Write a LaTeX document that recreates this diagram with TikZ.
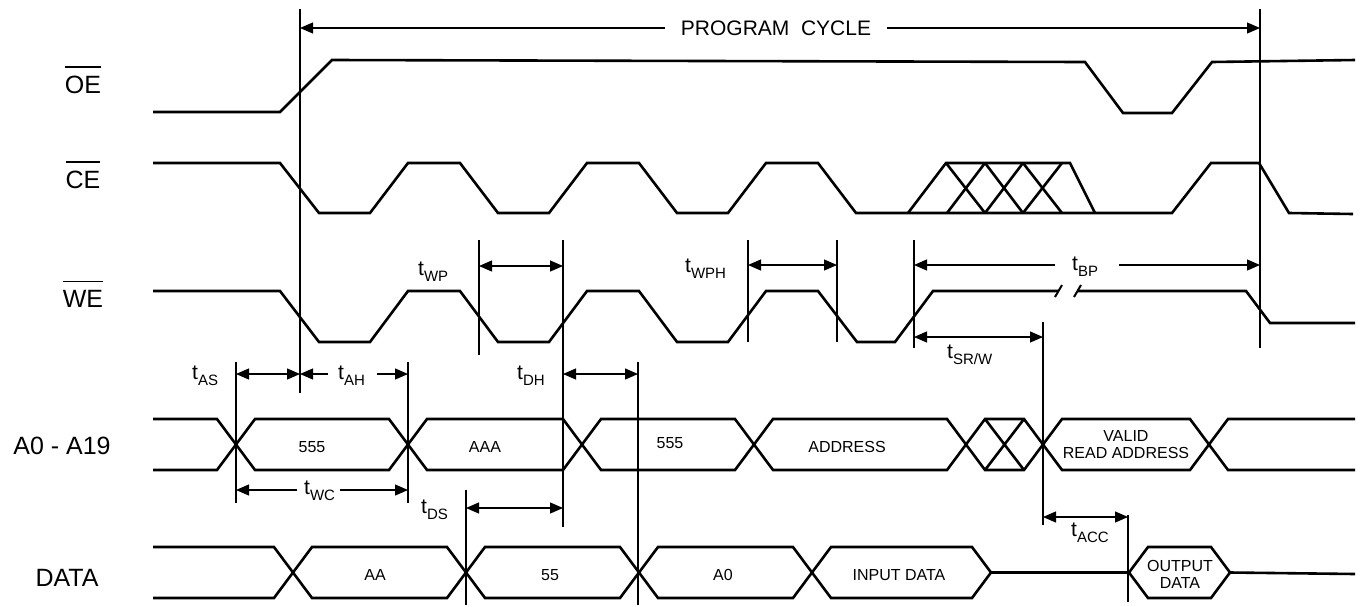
\documentclass[tikz,border=0pt]{standalone}
\usepackage{fontspec}
\setmainfont{Liberation Sans}
\usetikzlibrary{arrows.meta}
\newcommand\tlab[1]{{\fontsize{21}{21}\selectfont t}\raisebox{-6pt}{\fontsize{15}{15}\selectfont #1}}
\newcommand\ovlab[1]{\vbox{\hrule height 1.3pt\kern 8pt\hbox{#1}}}
\newcommand\hexa[4]{\draw[sig] (#1,{(#3+#4)/2}) -- ({#1+19},#3) -- ({#2-19},#3) -- (#2,{(#3+#4)/2}) -- ({#2-19},#4) -- ({#1+19},#4) -- cycle;}
\begin{document}
\begin{tikzpicture}[x=1pt,y=-1pt,
  sig/.style={line width=2.6pt, line join=miter},
  guide/.style={line width=1.2pt},
  dimarrow/.style={line width=1.2pt,{Triangle[length=13pt,width=11pt]}-{Triangle[length=13pt,width=11pt]}},
  halfarrow/.style={line width=1.2pt,-{Triangle[length=13pt,width=11pt]}},
  sigl/.style={font=\fontsize{25}{25}\selectfont, inner sep=0, anchor=base},
  busl/.style={font=\fontsize{16}{17}\selectfont, inner sep=0, align=center},
  tl/.style={anchor=base west, inner sep=0}]
\fill[white] (0,0) rectangle (1361,606);
\useasboundingbox (0,0) rectangle (1361,606);

% signal names
\node[sigl] (nOE) at (83,93) {\ovlab{OE}};
\node[sigl] (nCE) at (83,188) {\ovlab{CE}};
\node[sigl] (nWE) at (83,307) {\ovlab{WE}};
\node[sigl] (nA) at (62,454) {A0 - A19};
\node[sigl] (nD) at (67,586) {DATA};

% OE
\draw[sig] (153,112) -- (280,112) -- (332,60) -- (1085,62) -- (1123,113) -- (1172,113) -- (1212,62) -- (1355,60);
% CE
\draw[sig] (153,163) -- (280,163) -- (319,213) -- (370,213) -- (408,163) -- (460,163) -- (498,213) -- (549,213) -- (587,163) -- (639,163) -- (677,213) -- (728,213) -- (766,163) -- (818,163) -- (856,213) -- (1172,213) -- (1211,163) -- (1259,163) -- (1289,213) -- (1353,214);
\draw[sig] (908,213) -- (946,163) -- (1070,163) -- (1095,213);
\draw[sig] (947,213) -- (985,163) (985,213) -- (1023,163) (1023,213) -- (1062,163);
\draw[sig] (946,163) -- (985,213) (985,163) -- (1023,213) (1023,163) -- (1062,213);
% WE
\draw[sig] (153,291) -- (280,291) -- (319,342) -- (370,342) -- (408,291) -- (460,291) -- (498,342) -- (549,342) -- (587,291) -- (639,291) -- (677,342) -- (728,342) -- (766,291) -- (818,291) -- (857,342) -- (895,342) -- (933,291) -- (1058,291);
\draw[sig] (1078,291) -- (1246,291) -- (1270,323) -- (1355,323);
\draw[line width=2pt] (1055,297) -- (1062,285) (1074,297) -- (1081,285);

% A0 - A19 bus
\draw[sig] (153,419) -- (217,419) -- (236,444.5) -- (217,470) -- (153,470);
\hexa{236}{408}{419}{470}
\hexa{408}{582}{419}{470}
\hexa{582}{754}{419}{470}
\hexa{754}{966}{419}{470}
\hexa{966}{1043}{419}{470}
\draw[sig] (985,419) -- (1024,470) (985,470) -- (1024,419);
\hexa{1043}{1209}{419}{470}
\draw[sig] (1355,419) -- (1228,419) -- (1209,444.5) -- (1228,470) -- (1355,470);
\node[busl] (b1) at (312,447) {555};
\node[busl] (b2) at (485,447) {AAA};
\node[busl] (b3) at (670,443) {555};
\node[busl] (b4) at (847,447) {ADDRESS};
\node[busl] (b5) at (1126,445) {VALID\\READ ADDRESS};

% DATA bus
\draw[sig] (153,547) -- (274,547) -- (293,572.5) -- (274,598) -- (153,598);
\hexa{293}{466}{547}{598}
\hexa{466}{639}{547}{598}
\hexa{639}{812}{547}{598}
\hexa{812}{991}{547}{598}
\draw[sig] (991,572.5) -- (1129,572.5);
\hexa{1129}{1230}{547}{598}
\draw[sig] (1230,572.5) -- (1355,574);
\node[busl] (d1) at (375,575) {AA};
\node[busl] (d2) at (550,575) {55};
\node[busl] (d3) at (723,575) {A0};
\node[busl] (d4) at (899,575) {INPUT DATA};
\node[busl] (d5) at (1180,574) {OUTPUT\\DATA};

% guide lines
\draw[guide] (300,9) -- (300,393);
\draw[guide] (1260,9) -- (1260,348);
\draw[guide] (479,240) -- (479,355);
\draw[guide] (563,240) -- (563,527);
\draw[guide] (748,240) -- (748,342);
\draw[guide] (837,240) -- (837,342);
\draw[guide] (914,240) -- (914,348);
\draw[guide] (1043,322) -- (1043,525);
\draw[guide] (236,362) -- (236,503);
\draw[guide] (408,362) -- (408,503);
\draw[guide] (638,362) -- (638,605);
\draw[guide] (466,490) -- (466,605);
\draw[guide] (1128,515) -- (1128,602);

% PROGRAM CYCLE
\node[font=\fontsize{21}{21}\selectfont, inner sep=0] (pc) at (776,28) {PROGRAM\ \ CYCLE};
\coordinate (pcL) at (300,28);
\coordinate (pcR) at (1260,28);
\draw[halfarrow] ([xshift=-16pt]pc.west) -- (pcL);
\draw[halfarrow] ([xshift=16pt]pc.east) -- (pcR);

% timing labels
\node[tl] (tWP) at (418,275) {\tlab{WP}};
\node[tl] (tWPH) at (685,272) {\tlab{WPH}};
\node[tl] (tBP) at (1072,270) {\tlab{BP}};
\node[tl] (tSRW) at (947,358) {\tlab{SR/W}};
\node[tl] (tAS) at (192,379) {\tlab{AS}};
\node[tl] (tAH) at (338,379) {\tlab{AH}};
\node[tl] (tDH) at (517,379) {\tlab{DH}};
\node[tl] (tWC) at (304,494) {\tlab{WC}};
\node[tl] (tDS) at (421,513) {\tlab{DS}};
\node[tl] (tACC) at (1071,536) {\tlab{ACC}};

% dimension arrows
\draw[dimarrow] (479,266) -- (563,266);
\draw[dimarrow] (748,265) -- (837,265);
\coordinate (bpL) at (914,265);
\coordinate (bpR) at (1260,265);
\draw[halfarrow] (1055,265) -- (bpL);
\draw[halfarrow] (1119,265) -- (bpR);
\draw[dimarrow] (914,337) -- (1043,337);
\draw[dimarrow] (236,374) -- (300,374);
\draw[halfarrow] (328,374) -- (300,374);
\draw[halfarrow] (377,374) -- (408,374);
\draw[dimarrow] (563,374) -- (638,374);
\draw[halfarrow] (297,490) -- (236,490);
\draw[halfarrow] (340,490) -- (408,490);
\draw[dimarrow] (466,508) -- (563,508);
\draw[dimarrow] (1043,517) -- (1128,517);
\end{tikzpicture}
\end{document}
